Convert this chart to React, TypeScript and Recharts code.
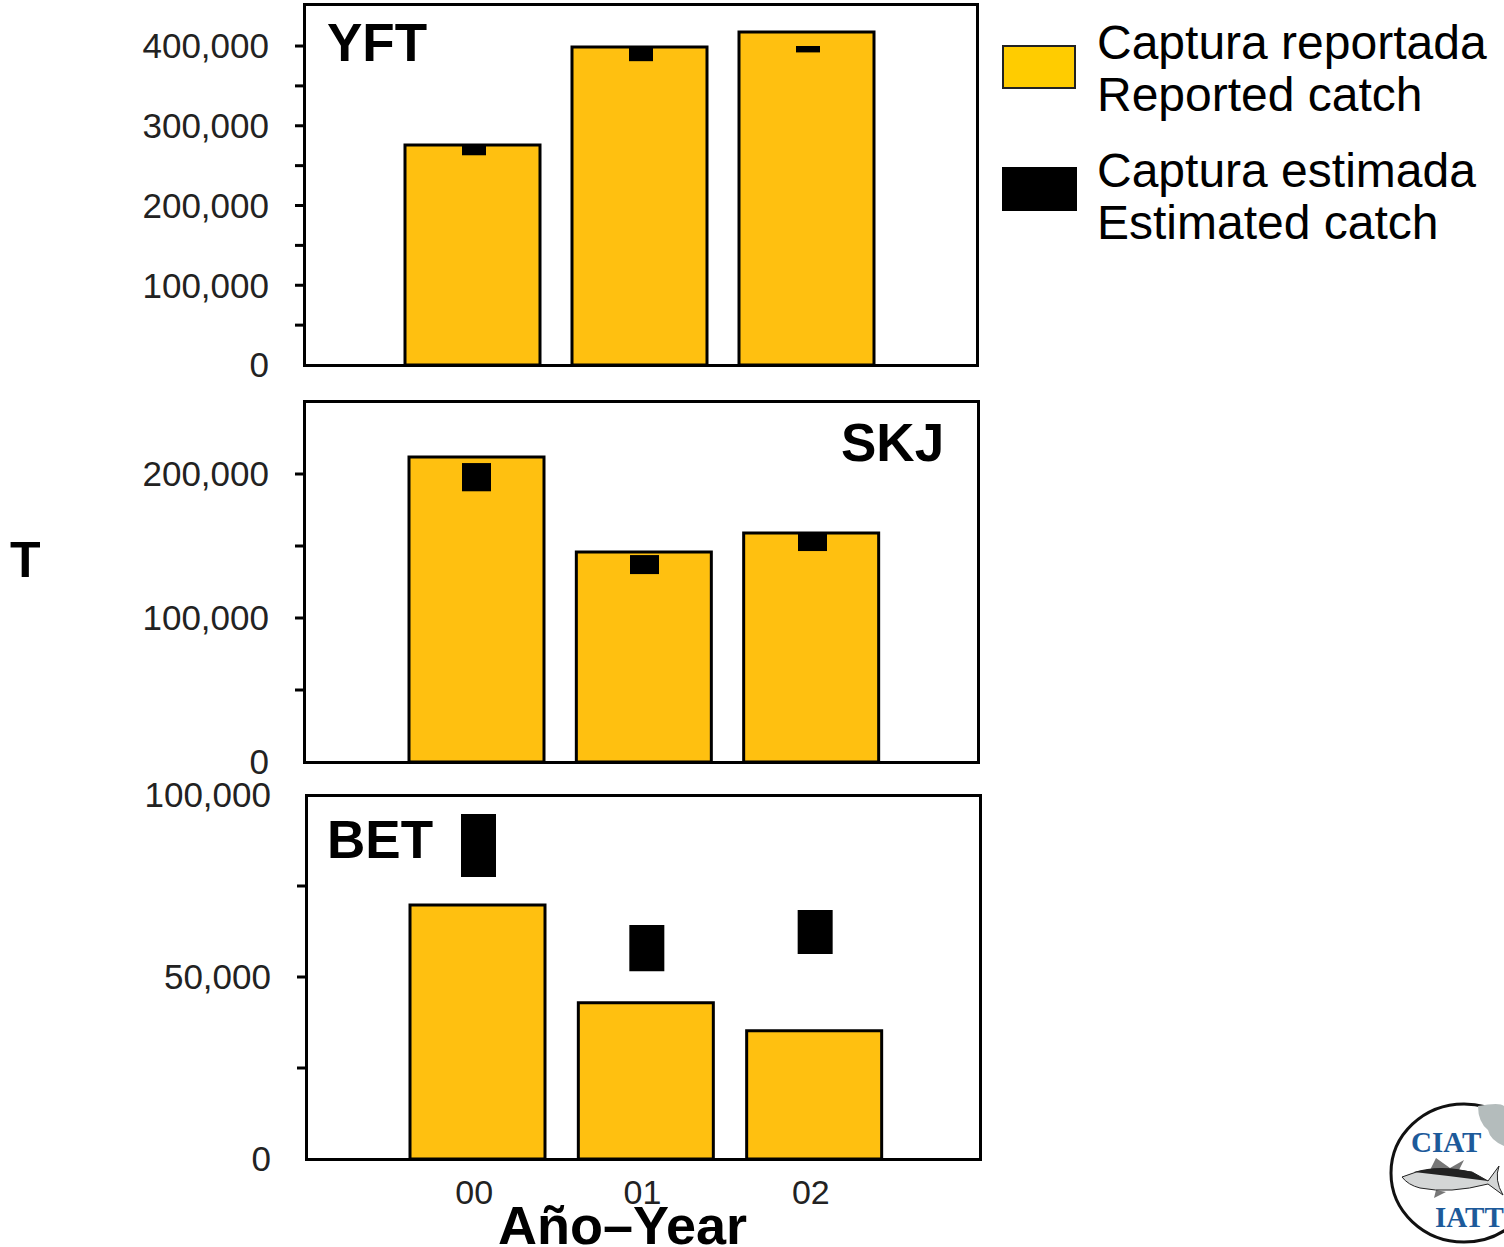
import React from 'react';
import { Bar, BarChart, XAxis, YAxis } from 'recharts';

const years = ['00', '01', '02'];

const yftReported = [275900, 398700, 417500];
const yftEstimated = [[263000, 275900], [381000, 398700], [392000, 400000]];
const yftTicks = [0, 50000, 100000, 150000, 200000, 250000, 300000, 350000, 400000];
const yftLabels = [0, 100000, 200000, 300000, 400000];

const skjReported = [211800, 145800, 159000];
const skjEstimated = [[188000, 207600], [130500, 143700], [146500, 159700]];
const skjTicks = [0, 50000, 100000, 150000, 200000];
const skjLabels = [0, 100000, 200000];

const betReported = [69800, 42900, 35200];
const betEstimated = [[77500, 94800], [51600, 64300], [56300, 68400]];
const betTicks = [0, 25000, 50000, 75000, 100000];
const betLabels = [0, 50000, 100000];

const BAR_COLOR = '#FFC010';
const FONT = '"Liberation Sans", Arial, sans-serif';

const fmt = (v: number) => v.toLocaleString('en-US');

const Panel = ({ name, reported, estimated, ticks, labels, max, left, right, top, bottom, barPad, estPad, estSize, labelX, labelY, showYears }: any) => {
  const data = years.map((y, i) => ({ year: y, reported: reported[i], estimated: estimated[i] }));
  const chartH = bottom + 60;

  // no tick mark on the frame corners, only the label
  const renderTick = (props: any) => {
    const v = props.payload.value;
    return (
      <g>
        {v > 0 && v < max && <line x1={left - 9} x2={left} y1={props.y} y2={props.y} stroke="#000" strokeWidth={3} />}
        <text x={left - 35} y={props.y} dy="0.355em" textAnchor="end" fontSize={35} fontFamily={FONT} fill="#222">
          {labels.includes(v) ? fmt(v) : ''}
        </text>
      </g>
    );
  };

  return (
    <>
      <div style={{ position: 'absolute', left: 0, top: 0 }}>
        <BarChart width={1000} height={chartH} data={data} margin={{ top, left: 0, right: 1000 - right, bottom: 0 }}>
          <XAxis
            xAxisId="main"
            dataKey="year"
            padding={barPad}
            height={chartH - bottom}
            axisLine={false}
            tickLine={false}
            tickMargin={15}
            tick={showYears ? { fontSize: 34, fontFamily: FONT, fill: '#222', dx: -3 } : false}
          />
          <XAxis xAxisId="est" dataKey="year" padding={estPad} hide height={0} />
          <YAxis
            domain={[0, max]}
            ticks={ticks}
            interval={0}
            width={left}
            allowDataOverflow
            axisLine={false}
            tickLine={false}
            tick={renderTick}
          />
          <Bar xAxisId="main" dataKey="reported" name="Reported catch" fill={BAR_COLOR} stroke="#000" strokeWidth={3} barSize={135} isAnimationActive={false} />
          <Bar xAxisId="est" dataKey="estimated" name="Estimated catch" fill="#000" barSize={estSize} isAnimationActive={false} />
        </BarChart>
      </div>
      <div style={{ position: 'absolute', left: left - 1.5, top: top - 1.5, width: right - left - 3, height: bottom - top - 3, border: '3px solid #000', pointerEvents: 'none' }} />
      <div style={{ position: 'absolute', left: labelX, top: labelY, fontFamily: FONT, fontWeight: 700, fontSize: 53, lineHeight: '60px', color: '#000' }}>{name}</div>
    </>
  );
};

const legendText: React.CSSProperties = { position: 'absolute', left: 1097, fontFamily: FONT, fontSize: 48, lineHeight: '52px', color: '#000', whiteSpace: 'nowrap' };

const Logo = () => (
  <svg width={1504} height={1247} style={{ position: 'absolute', left: 0, top: 0, pointerEvents: 'none' }}>
    <ellipse cx={1464} cy={1173} rx={73} ry={69} fill="#fff" stroke="#111" strokeWidth={3} />
    <path d="M1478 1106 Q1500 1102 1504 1106 L1504 1146 Q1490 1140 1488 1130 Q1478 1122 1478 1106 Z" fill="#b4bcbc" />
    <path d="M1430 1170 L1436 1158 L1450 1168 L1464 1160 L1458 1172 Z M1436 1190 L1434 1198 L1446 1192 Z" fill="#777" />
    <path d="M1402 1177 Q1430 1164 1472 1172 L1488 1181 L1499 1166 Q1494 1180 1503 1195 L1488 1184 Q1450 1194 1420 1188 Q1408 1185 1402 1177 Z" fill="#d4d6d6" stroke="#222" strokeWidth={1} />
    <path d="M1414 1172 Q1440 1164 1472 1172 L1488 1181 Q1450 1176 1414 1172 Z" fill="#222" />
    <text x={1411} y={1152} fontFamily='"Liberation Serif", serif' fontWeight={700} fontSize={29} fill="#1d5a9a">CIAT</text>
    <text x={1435} y={1227} fontFamily='"Liberation Serif", serif' fontWeight={700} fontSize={29} fill="#1d5a9a">IATTC</text>
  </svg>
);

export default function App() {
  return (
    <div style={{ position: 'absolute', left: 0, top: 0, width: 1504, height: 1247, overflow: 'hidden', background: '#fff' }}>
      <Panel name="YFT" reported={yftReported} estimated={yftEstimated} ticks={yftTicks} labels={yftLabels} max={452700}
        left={304} right={977} top={4} bottom={365} barPad={{ left: 85, right: 87 }} estPad={{ left: 86, right: 86 }} estSize={24} labelX={327} labelY={13} />
      <Panel name="SKJ" reported={skjReported} estimated={skjEstimated} ticks={skjTicks} labels={skjLabels} max={250700}
        left={304} right={978} top={401} bottom={762} barPad={{ left: 89, right: 83 }} estPad={{ left: 88, right: 82 }} estSize={29} labelX={841} labelY={413} />
      <Panel name="BET" reported={betReported} estimated={betEstimated} ticks={betTicks} labels={betLabels} max={100000}
        left={306} right={980} top={795} bottom={1159} barPad={{ left: 87, right: 82 }} estPad={{ left: 88, right: 81 }} estSize={35} labelX={327} labelY={810} showYears />

      <div style={{ position: 'absolute', left: 1002, top: 45, width: 70, height: 40, background: '#FFCC00', border: '2px solid #222' }} />
      <div style={{ position: 'absolute', left: 1002, top: 167, width: 75, height: 44, background: '#000' }} />
      <div style={{ ...legendText, top: 17 }}>Captura reportada<br />Reported catch</div>
      <div style={{ ...legendText, top: 145 }}>Captura estimada<br />Estimated catch</div>

      <div style={{ position: 'absolute', left: 10, top: 530, fontFamily: FONT, fontWeight: 700, fontSize: 50, lineHeight: '60px', color: '#000' }}>T</div>
      <div style={{ position: 'absolute', left: 498, top: 1195, fontFamily: FONT, fontWeight: 700, fontSize: 54, lineHeight: '60px', color: '#000', whiteSpace: 'nowrap' }}>Año–Year</div>
      <Logo />
    </div>
  );
}
